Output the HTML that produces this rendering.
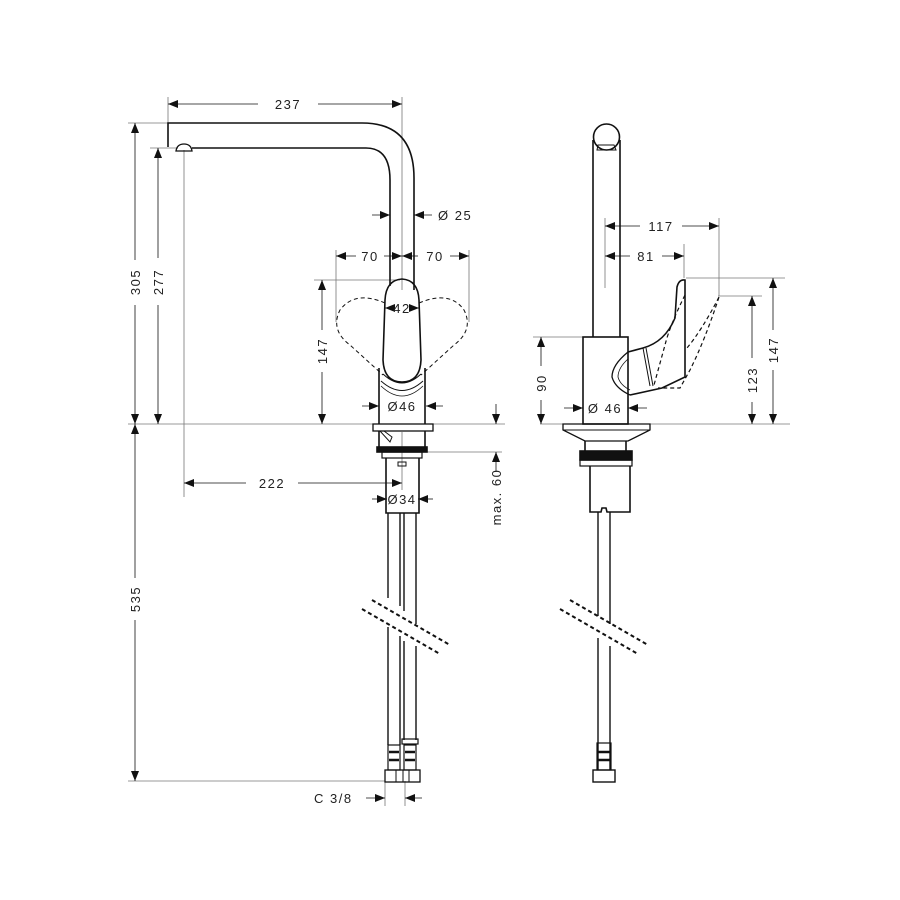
<!DOCTYPE html>
<html><head><meta charset="utf-8"><style>
html,body{margin:0;padding:0;background:#fff;}
svg{display:block;}
text{font-family:"Liberation Sans",sans-serif;font-size:13px;fill:#222;letter-spacing:1.5px;}
</style></head><body>
<svg width="900" height="900" viewBox="0 0 900 900" xmlns="http://www.w3.org/2000/svg">
<defs>
<marker id="a" viewBox="0 0 10 10" refX="10" refY="5" markerWidth="10" markerHeight="10" markerUnits="userSpaceOnUse" orient="auto-start-reverse"><path d="M0,1 L10,5 L0,9 z" fill="#111"/></marker>
</defs>
<g fill="none" stroke="#111" stroke-width="0.8">
<line x1="128" y1="424" x2="505" y2="424" stroke="#777"/>
<line x1="540" y1="424" x2="790" y2="424" stroke="#777"/>
<line x1="128" y1="123" x2="168" y2="123" stroke="#777"/>
<line x1="150" y1="148" x2="178" y2="148" stroke="#777"/>
<line x1="168" y1="97" x2="168" y2="123" stroke="#777"/>
<line x1="402" y1="97" x2="402" y2="290" stroke="#777"/>
<line x1="184" y1="150" x2="184" y2="497" stroke="#777"/>
<line x1="336" y1="250" x2="336" y2="322" stroke="#777"/>
<line x1="469" y1="250" x2="469" y2="322" stroke="#777"/>
<line x1="314" y1="280" x2="400" y2="280" stroke="#777"/>
<line x1="427" y1="452" x2="502" y2="452" stroke="#777"/>
<line x1="402" y1="432" x2="402" y2="490" stroke="#777"/>
<line x1="128" y1="781" x2="385" y2="781" stroke="#777"/>
<line x1="385" y1="781" x2="385" y2="806" stroke="#777"/>
<line x1="405" y1="781" x2="405" y2="806" stroke="#777"/>
<line x1="605" y1="218" x2="605" y2="288" stroke="#777"/>
<line x1="719" y1="218" x2="719" y2="296" stroke="#777"/>
<line x1="684" y1="244" x2="684" y2="278" stroke="#777"/>
<line x1="686" y1="278" x2="785" y2="278" stroke="#777"/>
<line x1="718" y1="296" x2="762" y2="296" stroke="#777"/>
<line x1="533" y1="337" x2="583" y2="337" stroke="#777"/>
<line x1="168" y1="104" x2="258" y2="104" marker-start="url(#a)"/>
<line x1="318" y1="104" x2="402" y2="104" marker-end="url(#a)"/>
<line x1="135" y1="123" x2="135" y2="260" marker-start="url(#a)"/>
<line x1="135" y1="305" x2="135" y2="424" marker-end="url(#a)"/>
<line x1="158" y1="148" x2="158" y2="258" marker-start="url(#a)"/>
<line x1="158" y1="305" x2="158" y2="424" marker-end="url(#a)"/>
<line x1="135" y1="424" x2="135" y2="578" marker-start="url(#a)"/>
<line x1="135" y1="620" x2="135" y2="781" marker-end="url(#a)"/>
<line x1="372" y1="215" x2="390" y2="215" marker-end="url(#a)"/>
<line x1="432" y1="215" x2="414" y2="215" marker-end="url(#a)"/>
<line x1="336" y1="256" x2="356" y2="256" marker-start="url(#a)"/>
<line x1="384" y1="256" x2="402" y2="256" marker-end="url(#a)"/>
<line x1="402" y1="256" x2="418" y2="256" marker-start="url(#a)"/>
<line x1="450" y1="256" x2="469" y2="256" marker-end="url(#a)"/>
<line x1="322" y1="280" x2="322" y2="330" marker-start="url(#a)"/>
<line x1="322" y1="372" x2="322" y2="424" marker-end="url(#a)"/>
<line x1="385" y1="308" x2="394" y2="308" marker-start="url(#a)"/>
<line x1="410" y1="308" x2="419" y2="308" marker-end="url(#a)"/>
<line x1="362" y1="406" x2="379" y2="406" marker-end="url(#a)"/>
<line x1="443" y1="406" x2="426" y2="406" marker-end="url(#a)"/>
<line x1="184" y1="483" x2="246" y2="483" marker-start="url(#a)"/>
<line x1="298" y1="483" x2="402" y2="483" marker-end="url(#a)"/>
<line x1="372" y1="499" x2="387" y2="499" marker-end="url(#a)"/>
<line x1="433" y1="499" x2="418" y2="499" marker-end="url(#a)"/>
<line x1="496" y1="404" x2="496" y2="424" marker-end="url(#a)"/>
<line x1="496" y1="472" x2="496" y2="452" marker-end="url(#a)"/>
<line x1="366" y1="798" x2="385" y2="798" marker-end="url(#a)"/>
<line x1="422" y1="798" x2="405" y2="798" marker-end="url(#a)"/>
<line x1="605" y1="226" x2="640" y2="226" marker-start="url(#a)"/>
<line x1="682" y1="226" x2="719" y2="226" marker-end="url(#a)"/>
<line x1="605" y1="256" x2="630" y2="256" marker-start="url(#a)"/>
<line x1="662" y1="256" x2="684" y2="256" marker-end="url(#a)"/>
<line x1="541" y1="337" x2="541" y2="366" marker-start="url(#a)"/>
<line x1="541" y1="400" x2="541" y2="424" marker-end="url(#a)"/>
<line x1="564" y1="408" x2="583" y2="408" marker-end="url(#a)"/>
<line x1="647" y1="408" x2="628" y2="408" marker-end="url(#a)"/>
<line x1="752" y1="296" x2="752" y2="358" marker-start="url(#a)"/>
<line x1="752" y1="402" x2="752" y2="424" marker-end="url(#a)"/>
<line x1="773" y1="278" x2="773" y2="330" marker-start="url(#a)"/>
<line x1="773" y1="370" x2="773" y2="424" marker-end="url(#a)"/>
</g>
<g fill="none" stroke="#111" stroke-width="1.6">
<path d="M168,147 L168,123 L362,123 Q414,123 414,178 L414,290"/>
<path d="M192,148 L366,148 Q390,148 390,180 L390,286"/>
<path d="M176,151 Q177,144 184,144 Q191,144 192,151 Z" stroke-width="1.3"/>
<path d="M383,360 L385,300 Q386,280 402,279 Q418,280 419,300 L421,360 Q420,382 402,382 Q384,382 383,360 Z"/>
<path d="M379,368 L379,424 M425,368 L425,424"/>
<path d="M383,374 Q402,392 421,374" stroke-width="1"/>
<path d="M381,381 Q402,400 423,381" stroke-width="1"/>
<path d="M381,386 Q402,406 423,386" stroke-width="0.8"/>
<rect x="373" y="424" width="60" height="7" stroke-width="1.3"/>
<path d="M379,431 L379,447 M425,431 L425,447"/>
<path d="M380,431 L390,442 L392,437 L384,431" stroke-width="1"/>
<rect x="377" y="447" width="50" height="5" fill="#111"/>
<rect x="382" y="452" width="40" height="6" stroke-width="1.2"/>
<rect x="398" y="462" width="8" height="4" stroke-width="1"/>
<path d="M386,458 L386,513 L419,513 L419,458"/>
<path d="M388,513 L388,598 M400,513 L400,606 M404,513 L404,611 M416,513 L416,624" stroke-width="1.4"/>
<path d="M388,627 L388,745 M400,636 L400,745 M404,641 L404,740 M416,646 L416,740" stroke-width="1.4"/>
<rect x="388" y="745" width="12" height="25" stroke-width="1.2"/>
<rect x="404" y="745" width="12" height="25" stroke-width="1.2"/>
<rect x="402" y="739" width="16" height="5" stroke-width="1.2"/>
<rect x="385" y="770" width="35" height="12" stroke-width="1.3"/>
<path d="M396,770 L396,782 M403,770 L403,782 M409,770 L409,782" stroke-width="1"/>
<path d="M389,752 L399,752 M389,760 L399,760 M405,752 L415,752 M405,760 L415,760" stroke-width="2.5"/>
</g>
<g fill="none" stroke="#111" stroke-width="1" stroke-dasharray="4,3">
<path d="M385,303 Q355,290 340,310 Q330,330 350,345 L383,375"/>
<path d="M419,303 Q450,290 464,310 Q474,330 454,345 L421,375"/>
<path d="M372,600 L450,645 M362,609 L440,654" stroke-width="2"/>
<path d="M570,600 L648,645 M560,609 L638,654" stroke-width="2"/>
<path d="M685,295 Q670,325 665,345 L654,385 M719,297 Q702,330 687,348 M719,297 Q705,340 690,370 L680,388 L658,388" stroke-width="1.2"/>
</g>
<g fill="none" stroke="#111" stroke-width="1.6">
<circle cx="606.5" cy="137" r="13"/>
<path d="M593,140 L593,337 M620,140 L620,337"/>
<path d="M597,150 L598,145 L614,145 L616,150 Z" stroke-width="1"/>
<rect x="583" y="337" width="45" height="87"/>
<path d="M628,352 L643,348 Q665,342 675,318 L677,287 Q679,279 685,280 L685,377 L662,388 L630,395"/>
<path d="M628,352 Q612,365 612,377 Q615,388 630,395" stroke-width="1.3"/>
<path d="M628,359 Q618,368 618,377 Q620,385 630,390" stroke-width="0.8"/>
<path d="M643,348 L650,386 M646,348 L653,386" stroke-width="1"/>
<path d="M563,424 L650,424 L650,430 L628,441 L585,441 L563,430 Z" stroke-width="1.3"/>
<path d="M563,430 L650,430" stroke-width="1"/>
<path d="M585,441 L585,451 M626,441 L626,451"/>
<rect x="580" y="451" width="52" height="9" fill="#111"/>
<rect x="580" y="460" width="52" height="6" stroke-width="1.2"/>
<path d="M590,466 L590,512 L601,512 L602,508 L606,508 L607,512 L630,512 L630,466"/>
<path d="M598,512 L598,616 M610,512 L610,624 M598,638 L598,770 M610,646 L610,770" stroke-width="1.4"/>
<rect x="597" y="743" width="14" height="27" stroke-width="1.2"/>
<path d="M598,752 L610,752 M598,760 L610,760" stroke-width="2.5"/>
<rect x="593" y="770" width="22" height="12" stroke-width="1.4"/>
</g>
<text x="288" y="109" text-anchor="middle">237</text>
<text transform="translate(140,282) rotate(-90)" text-anchor="middle">305</text>
<text transform="translate(163,282) rotate(-90)" text-anchor="middle">277</text>
<text transform="translate(140,599) rotate(-90)" text-anchor="middle">535</text>
<text x="438" y="220">Ø  25</text>
<text x="370" y="261" text-anchor="middle">70</text>
<text x="435" y="261" text-anchor="middle">70</text>
<text x="402" y="313" text-anchor="middle" letter-spacing="0">42</text>
<text transform="translate(327,351) rotate(-90)" text-anchor="middle">147</text>
<text x="402" y="411" text-anchor="middle" letter-spacing="0.5">Ø46</text>
<text x="272" y="488" text-anchor="middle">222</text>
<text x="402" y="504" text-anchor="middle" letter-spacing="0.5">Ø34</text>
<text transform="translate(501,497) rotate(-90)" text-anchor="middle" font-size="12">max. 60</text>
<text x="314" y="803">C 3/8</text>
<text x="661" y="231" text-anchor="middle">117</text>
<text x="646" y="261" text-anchor="middle">81</text>
<text transform="translate(546,383) rotate(-90)" text-anchor="middle">90</text>
<text x="605" y="413" text-anchor="middle">Ø  46</text>
<text transform="translate(757,380) rotate(-90)" text-anchor="middle">123</text>
<text transform="translate(778,350) rotate(-90)" text-anchor="middle">147</text>
</svg>
</body></html>
